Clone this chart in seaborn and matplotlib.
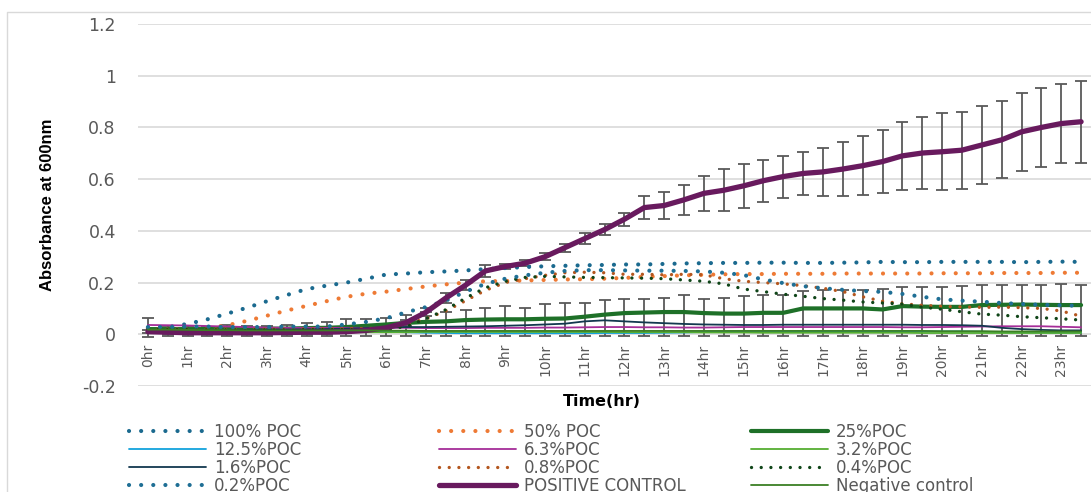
import numpy as np
import pandas as pd
import seaborn as sns
import matplotlib
matplotlib.use('Agg')
from matplotlib import pyplot as plt
from matplotlib.lines import Line2D

# half-hourly readings, labels every hour
hours = [0, 0.5, 1, 1.5, 2, 2.5, 3, 3.5, 4, 4.5, 5, 5.5, 6, 6.5, 7, 7.5,
         8, 8.5, 9, 9.5, 10, 10.5, 11, 11.5, 12, 12.5, 13, 13.5, 14, 14.5, 15, 15.5,
         16, 16.5, 17, 17.5, 18, 18.5, 19, 19.5, 20, 20.5, 21, 21.5, 22, 22.5, 23, 23.5]
hour_labels = ['0hr', '1hr', '2hr', '3hr', '4hr', '5hr', '6hr', '7hr', '8hr', '9hr', '10hr', '11hr',
               '12hr', '13hr', '14hr', '15hr', '16hr', '17hr', '18hr', '19hr', '20hr', '21hr', '22hr', '23hr']
y_ticks = [-0.2, 0, 0.2, 0.4, 0.6, 0.8, 1, 1.2]
y_labels = ['-0.2', '0', '0.2', '0.4', '0.6', '0.8', '1', '1.2']

poc_100 = [0.025, 0.028, 0.04, 0.058, 0.08, 0.103, 0.128, 0.152, 0.175, 0.188, 0.2, 0.215,
           0.231, 0.235, 0.24, 0.243, 0.247, 0.252, 0.256, 0.26, 0.263, 0.265, 0.267, 0.268,
           0.27, 0.27, 0.272, 0.274, 0.275, 0.276, 0.276, 0.277, 0.277, 0.276, 0.276, 0.277,
           0.278, 0.28, 0.279, 0.279, 0.28, 0.28, 0.28, 0.28, 0.279, 0.28, 0.281, 0.28]
poc_50 = [0.022, 0.022, 0.024, 0.025, 0.035, 0.052, 0.072, 0.092, 0.11, 0.128, 0.145, 0.157,
          0.165, 0.175, 0.185, 0.193, 0.2, 0.205, 0.206, 0.208, 0.21, 0.212, 0.213, 0.215,
          0.218, 0.222, 0.225, 0.228, 0.23, 0.232, 0.233, 0.233, 0.234, 0.234, 0.234, 0.235,
          0.235, 0.235, 0.235, 0.235, 0.236, 0.236, 0.236, 0.237, 0.237, 0.237, 0.238, 0.238]
poc_25 = [0.02, 0.02, 0.02, 0.02, 0.02, 0.022, 0.022, 0.022, 0.024, 0.025, 0.028, 0.033,
          0.038, 0.044, 0.048, 0.05, 0.055, 0.057, 0.058, 0.058, 0.06, 0.061, 0.068, 0.076,
          0.082, 0.084, 0.086, 0.086, 0.082, 0.08, 0.08, 0.083, 0.083, 0.1, 0.1, 0.1,
          0.1, 0.096, 0.109, 0.107, 0.106, 0.106, 0.113, 0.114, 0.115, 0.114, 0.113, 0.113]
poc_25_bar_top = [0.063, 0.031, 0.031, 0.03, 0.037, 0.031, 0.031, 0.035, 0.045, 0.048, 0.058, 0.061,
                  0.063, 0.074, 0.085, 0.086, 0.093, 0.103, 0.108, 0.103, 0.119, 0.121, 0.121, 0.132,
                  0.138, 0.138, 0.142, 0.151, 0.138, 0.142, 0.148, 0.151, 0.151, 0.168, 0.17, 0.17,
                  0.173, 0.177, 0.183, 0.183, 0.182, 0.186, 0.19, 0.19, 0.19, 0.19, 0.194, 0.19]
poc_25_bar_bottom = [-0.01, -0.008, -0.008, -0.008, -0.008, -0.008, -0.008, -0.008, -0.008, -0.008, -0.008, -0.008,
                     -0.008, -0.008, -0.008, -0.008, -0.008, -0.008, -0.008, -0.008, -0.008, -0.008, -0.008, -0.008,
                     -0.008, -0.008, -0.008, -0.008, -0.008, -0.008, -0.008, -0.008, -0.008, -0.008, -0.008, -0.008,
                     -0.008, -0.008, -0.008, -0.008, -0.008, -0.008, -0.008, -0.008, -0.008, -0.008, -0.008, -0.008]
poc_12_5 = [0.015, 0.015, 0.014, 0.014, 0.013, 0.013, 0.012, 0.012, 0.012, 0.011, 0.011, 0.01,
            0.01, 0.008, 0.006, 0.005, 0.004, 0.004, 0.004, 0.004, 0.004, 0.004, 0.004, 0.005,
            0.005, 0.005, 0.006, 0.007, 0.009, 0.01, 0.012, 0.012, 0.012, 0.012, 0.012, 0.012,
            0.012, 0.012, 0.012, 0.011, 0.011, 0.011, 0.01, 0.008, 0.007, 0.007, 0.006, 0.006]
poc_6_3 = [0.036, 0.035, 0.034, 0.032, 0.03, 0.028, 0.026, 0.025, 0.025, 0.025, 0.025, 0.025,
           0.025, 0.025, 0.024, 0.024, 0.024, 0.025, 0.025, 0.025, 0.026, 0.026, 0.027, 0.028,
           0.028, 0.027, 0.027, 0.026, 0.026, 0.027, 0.028, 0.028, 0.028, 0.028, 0.028, 0.028,
           0.028, 0.028, 0.027, 0.027, 0.028, 0.029, 0.03, 0.031, 0.031, 0.031, 0.029, 0.027]
poc_3_2 = [0.01, 0.01, 0.01, 0.009, 0.009, 0.009, 0.008, 0.008, 0.008, 0.008, 0.008, 0.008,
           0.008, 0.008, 0.009, 0.009, 0.009, 0.009, 0.009, 0.009, 0.009, 0.009, 0.009, 0.009,
           0.008, 0.008, 0.008, 0.008, 0.007, 0.007, 0.007, 0.006, 0.006, 0.006, 0.006, 0.006,
           0.006, 0.006, 0.006, 0.005, 0.005, 0.005, 0.005, 0.005, 0.005, 0.005, 0.005, 0.005]
poc_1_6 = [0.015, 0.015, 0.015, 0.016, 0.016, 0.017, 0.018, 0.018, 0.019, 0.02, 0.022, 0.024,
           0.026, 0.028, 0.028, 0.029, 0.03, 0.031, 0.033, 0.035, 0.038, 0.041, 0.05, 0.054,
           0.05, 0.046, 0.043, 0.04, 0.038, 0.037, 0.036, 0.036, 0.037, 0.037, 0.037, 0.037,
           0.037, 0.037, 0.037, 0.036, 0.036, 0.035, 0.033, 0.025, 0.02, 0.017, 0.015, 0.015]
poc_0_8 = [0.02, 0.02, 0.02, 0.02, 0.02, 0.02, 0.02, 0.02, 0.021, 0.021, 0.022, 0.022,
           0.025, 0.04, 0.06, 0.09, 0.13, 0.17, 0.2, 0.215, 0.228, 0.238, 0.24, 0.238,
           0.232, 0.232, 0.23, 0.232, 0.23, 0.215, 0.205, 0.2, 0.195, 0.188, 0.178, 0.165,
           0.145, 0.128, 0.118, 0.112, 0.108, 0.106, 0.104, 0.105, 0.103, 0.1, 0.09, 0.07]
poc_0_4 = [0.018, 0.018, 0.018, 0.017, 0.017, 0.017, 0.017, 0.017, 0.018, 0.018, 0.018, 0.019,
           0.02, 0.03, 0.06, 0.095, 0.14, 0.18, 0.205, 0.22, 0.224, 0.222, 0.22, 0.219,
           0.218, 0.217, 0.215, 0.21, 0.205, 0.195, 0.175, 0.165, 0.155, 0.147, 0.138, 0.132,
           0.125, 0.121, 0.117, 0.105, 0.097, 0.087, 0.078, 0.074, 0.068, 0.064, 0.06, 0.055]
poc_0_2 = [0.028, 0.028, 0.03, 0.03, 0.028, 0.028, 0.028, 0.03, 0.03, 0.03, 0.038, 0.048,
           0.062, 0.085, 0.105, 0.13, 0.165, 0.195, 0.215, 0.228, 0.238, 0.245, 0.248, 0.248,
           0.247, 0.246, 0.246, 0.245, 0.243, 0.238, 0.229, 0.212, 0.198, 0.186, 0.178, 0.172,
           0.167, 0.164, 0.156, 0.145, 0.135, 0.13, 0.126, 0.121, 0.117, 0.114, 0.112, 0.11]
positive_control = [0.01, 0.008, 0.006, 0.006, 0.006, 0.006, 0.006, 0.007, 0.008, 0.008, 0.01, 0.015,
                    0.025, 0.045, 0.085, 0.14, 0.19, 0.245, 0.262, 0.275, 0.3, 0.335, 0.37, 0.405,
                    0.445, 0.49, 0.498, 0.52, 0.545, 0.557, 0.574, 0.594, 0.61, 0.622, 0.628, 0.639,
                    0.652, 0.668, 0.69, 0.701, 0.706, 0.712, 0.732, 0.752, 0.783, 0.8, 0.815, 0.822]
positive_err = [0.005, 0.005, 0.005, 0.005, 0.005, 0.005, 0.005, 0.005, 0.005, 0.005, 0.005, 0.005,
                0.01, 0.012, 0.015, 0.02, 0.02, 0.022, 0.01, 0.012, 0.013, 0.016, 0.02, 0.02,
                0.025, 0.043, 0.054, 0.058, 0.069, 0.081, 0.084, 0.081, 0.081, 0.084, 0.094, 0.105,
                0.114, 0.123, 0.132, 0.139, 0.148, 0.149, 0.149, 0.149, 0.152, 0.154, 0.153, 0.159]
negative_control = [0.018, 0.018, 0.017, 0.016, 0.016, 0.015, 0.015, 0.015, 0.015, 0.015, 0.015, 0.015,
                    0.014, 0.014, 0.013, 0.013, 0.013, 0.013, 0.013, 0.013, 0.013, 0.013, 0.013, 0.013,
                    0.013, 0.013, 0.013, 0.013, 0.013, 0.013, 0.013, 0.013, 0.013, 0.013, 0.013, 0.013,
                    0.013, 0.013, 0.013, 0.013, 0.012, 0.012, 0.012, 0.011, 0.011, 0.011, 0.011, 0.011]

series_names = ['100% POC', '50% POC', '25%POC', '12.5%POC', '6.3%POC', '3.2%POC',
                '1.6%POC', '0.8%POC', '0.4%POC', '0.2%POC', 'POSITIVE CONTROL', 'Negative control']
series_values = [poc_100, poc_50, poc_25, poc_12_5, poc_6_3, poc_3_2,
                 poc_1_6, poc_0_8, poc_0_4, poc_0_2, positive_control, negative_control]

colors = {'100% POC': '#1B6A8F', '50% POC': '#EE7A35', '25%POC': '#1E7028',
          '12.5%POC': '#12A3DC', '6.3%POC': '#A52D98', '3.2%POC': '#55AE32',
          '1.6%POC': '#12384F', '0.8%POC': '#B4561E', '0.4%POC': '#0F4518',
          '0.2%POC': '#1F6F95', 'POSITIVE CONTROL': '#681A5E', 'Negative control': '#3C7F24'}
dot = (0.01, 2.9)
dashes = {'100% POC': dot, '50% POC': dot, '25%POC': '', '12.5%POC': '', '6.3%POC': '',
          '3.2%POC': '', '1.6%POC': '', '0.8%POC': dot, '0.4%POC': dot, '0.2%POC': dot,
          'POSITIVE CONTROL': '', 'Negative control': ''}
widths = {'100% POC': 3.0, '50% POC': 3.0, '25%POC': 3.0, '12.5%POC': 1.3, '6.3%POC': 1.3,
          '3.2%POC': 1.3, '1.6%POC': 1.3, '0.8%POC': 2.4, '0.4%POC': 2.4, '0.2%POC': 3.0,
          'POSITIVE CONTROL': 3.8, 'Negative control': 1.3}

df = pd.concat([pd.DataFrame({'hour': hours, 'absorbance': vals, 'series': name})
                for name, vals in zip(series_names, series_values)], ignore_index=True)

sns.set_style('white')
plt.rcParams['font.family'] = ['DejaVu Sans']
plt.rcParams['lines.dash_capstyle'] = 'round'
plt.rcParams['lines.solid_capstyle'] = 'round'

fig = plt.figure(figsize=(10.91, 4.92), dpi=100)
ax = fig.add_axes([138 / 1091, 106 / 492, 953 / 1091, 362 / 492])

# error bars sit under the lines
ax.errorbar(hours, positive_control, yerr=positive_err, fmt='none', ecolor='#595959',
            elinewidth=1.3, capsize=4.5, capthick=1.3, zorder=1.5)
p25 = np.array(poc_25)
ax.errorbar(hours, poc_25, yerr=[p25 - np.array(poc_25_bar_bottom), np.array(poc_25_bar_top) - p25],
            fmt='none', ecolor='#595959', elinewidth=1.3, capsize=4.5, capthick=1.3, zorder=1.5)

sns.lineplot(data=df, x='hour', y='absorbance', hue='series', style='series', size='series',
             hue_order=series_names, style_order=series_names, size_order=series_names,
             palette=colors, dashes=dashes, sizes=widths, errorbar=None, legend=False,
             sort=False, ax=ax)

# category axis crosses at y = 0, labels hang just below it
ax.spines['bottom'].set_position(('data', 0))
for s in ax.spines.values():
    s.set_visible(False)
ax.set_xlim(-0.25, 23.75)
ax.set_ylim(-0.2, 1.2)
ax.set_yticks(y_ticks)
ax.set_yticklabels(y_labels)
ax.set_xticks(range(24))
ax.set_xticklabels(hour_labels)
ax.tick_params(axis='y', length=0, pad=16, labelsize=12.5, labelcolor='#595959')
ax.tick_params(axis='x', length=0, pad=7, labelsize=10, labelcolor='#595959', labelrotation=90)
ax.grid(axis='y', color='#D9D9D9', linewidth=1.2)
ax.grid(axis='x', visible=False)
ax.set_axisbelow(True)
ax.set_xlabel('')
ax.set_ylabel('')

fig.text(48 / 1091, 1 - 205 / 492, 'Absorbance at 600nm', rotation=90, ha='center', va='center',
         fontsize=12, fontweight='bold', family=['Liberation Sans', 'DejaVu Sans'], color='black')
fig.text(602 / 1091, 1 - 402 / 492, 'Time(hr)', ha='center', va='center',
         fontsize=11.5, fontweight='bold', color='black')

# chart area border (only left and top edges are inside the crop)
fig.add_artist(Line2D([7 / 1091, 7 / 1091, 1], [0, 1 - 12 / 492, 1 - 12 / 492],
                      transform=fig.transFigure, color='#D9D9D9', linewidth=1))


def handle(name):
    if dashes[name]:
        return Line2D([], [], color=colors[name], linewidth=widths[name], linestyle=(0, dashes[name]))
    return Line2D([], [], color=colors[name], linewidth=widths[name])


# legend laid out in three columns, filled row by row
col_x = [129, 439, 751]
for c in range(3):
    names = series_names[c::3]
    fig.legend(handles=[handle(n) for n in names], labels=names, loc='upper left',
               bbox_to_anchor=(col_x[c] / 1091, 1 - 423 / 492), frameon=False,
               borderpad=0, borderaxespad=0, handlelength=4.6, handletextpad=0.5,
               labelspacing=0.0, fontsize=12, labelcolor='#595959')

fig.savefig('out.png', dpi=100)
